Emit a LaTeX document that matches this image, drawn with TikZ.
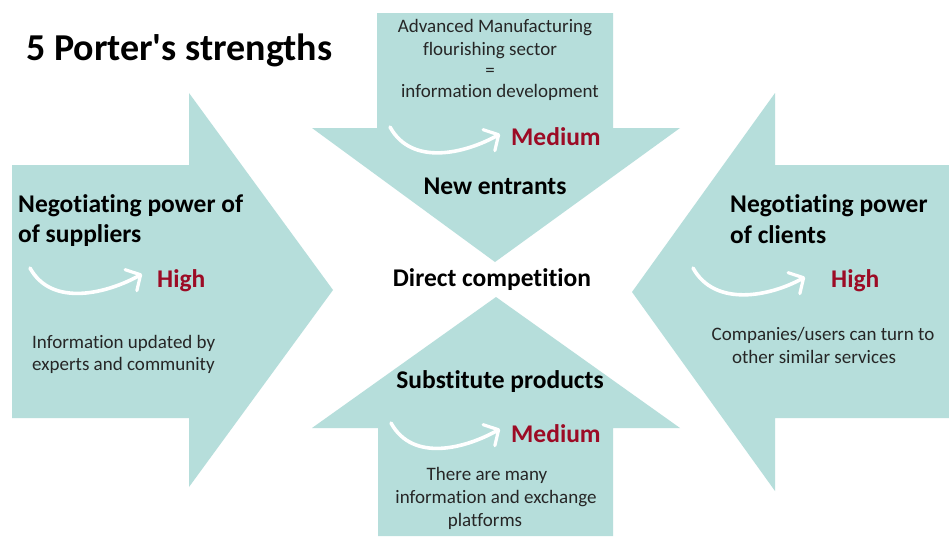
\documentclass[tikz,border=0pt]{standalone}
\usepackage{fontspec}
\newfontfamily\carl{Carlito}[Ligatures=NoCommon]
\usetikzlibrary{arrows.meta}
\definecolor{forcefill}{HTML}{B6DEDB}
\definecolor{levelred}{HTML}{9C0B25}
\begin{document}
\begin{tikzpicture}[x=1pt,y=-1pt,
  force/.style={fill=forcefill,draw=none},
  heading/.style={inner sep=0pt,font=\carl\fontsize{25.5}{30.5}\selectfont\bfseries},
  level/.style={heading,text=levelred},
  note/.style={inner sep=0pt,font=\carl\fontsize{19}{22}\selectfont,text=black!85},
  swoosh/.style={white,line width=3.6pt,line cap=round,
    -{Straight Barb[length=11pt,width=24pt,line width=3.2pt,round]}}]
\useasboundingbox (0,0) rectangle (949,536);
\fill[white] (0,0) rectangle (949,536);

% block arrows pointing at the centre
\path[force] (12,165) -- (189,165) -- (189,93) -- (333,290) -- (189,487) -- (189,418) -- (12,418) -- cycle;
\path[force] (377,13) -- (613,13) -- (613,128) -- (680,128) -- (495,262) -- (312,128) -- (377,128) -- cycle;
\path[force] (378,536) -- (378,428) -- (312,428) -- (496,297) -- (680,428) -- (613,428) -- (613,536) -- cycle;
\path[force] (949,165) -- (775,165) -- (775,93) -- (632,292) -- (775,491) -- (775,418) -- (949,418) -- cycle;

% title
\node[inner sep=0pt,anchor=base west,font=\carl\fontsize{38}{44}\selectfont\bfseries] (title) at (26,60) {5 Porter's strengths};

% centre
\node[heading,anchor=base] (centre) at (492,286) {Direct competition};

% new entrants
\node[note,anchor=base] (new1) at (495,32) {Advanced Manufacturing};
\node[note,anchor=base] (new2) at (490,55) {flourishing sector};
\node[note,anchor=base] (new3) at (490,76) {=};
\node[note,anchor=base] (new4) at (500,97) {information development};
\node[level,anchor=base west] (newlvl) at (511,145) {Medium};
\node[heading,anchor=base] (newhead) at (495,194) {New entrants};
\coordinate (newS) at (390,127);
\coordinate (newE) at (500,134);
\draw[swoosh] (newS) .. controls +(22,40) and +(-34,19) .. (newE);

% substitute products
\node[heading,anchor=base] (subhead) at (500,388) {Substitute products};
\node[level,anchor=base west] (sublvl) at (511,442) {Medium};
\node[note,anchor=base] (sub1) at (487,480) {There are many};
\node[note,anchor=base] (sub2) at (496,503) {information and exchange};
\node[note,anchor=base] (sub3) at (485,526) {platforms};
\coordinate (subS) at (391,423);
\coordinate (subE) at (500,429);
\draw[swoosh] (subS) .. controls +(22,40) and +(-34,19) .. (subE);

% suppliers
\node[heading,anchor=base west] (sup1) at (18,212) {Negotiating power of};
\node[heading,anchor=base west] (sup2) at (18,242) {of suppliers};
\node[level,anchor=base west] (suplvl) at (157,287) {High};
\node[note,anchor=base west] (sup3) at (32,348) {Information updated by};
\node[note,anchor=base west] (sup4) at (32,370) {experts and community};
\coordinate (supS) at (30,268);
\coordinate (supE) at (142,274);
\draw[swoosh] (supS) .. controls +(22,40) and +(-34,19) .. (supE);

% clients
\node[heading,anchor=base west] (cli1) at (730,212) {Negotiating power};
\node[heading,anchor=base west] (cli2) at (730,243) {of clients};
\node[level,anchor=base west] (clilvl) at (831,287) {High};
\node[note,anchor=base] (cli3) at (823,340) {Companies/users can turn to};
\node[note,anchor=base] (cli4) at (814,363) {other similar services};
\coordinate (cliS) at (693,268);
\coordinate (cliE) at (805,277);
\draw[swoosh] (cliS) .. controls +(22,40) and +(-34,19) .. (cliE);
\end{tikzpicture}
\end{document}
